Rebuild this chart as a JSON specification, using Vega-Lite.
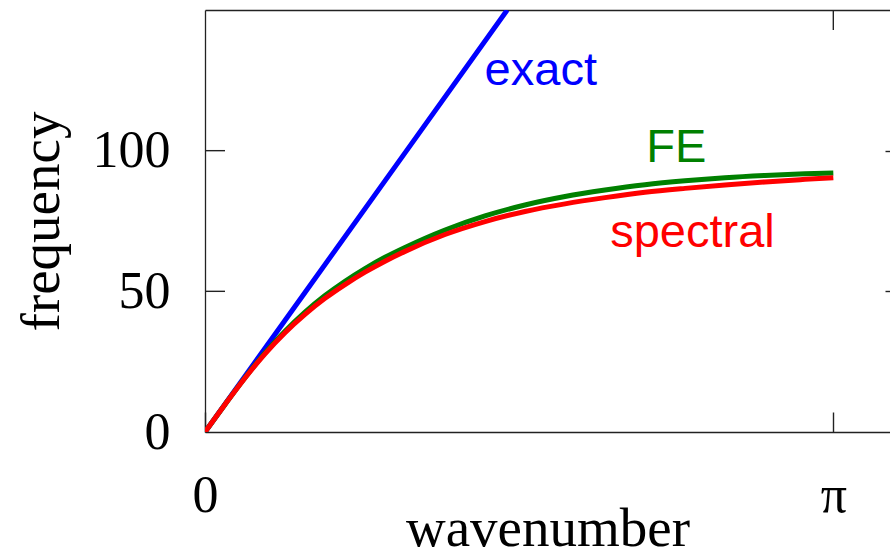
{
  "$schema": "https://vega.github.io/schema/vega-lite/v6.json",
  "width": 685,
  "height": 422,
  "autosize": {"type": "none"},
  "padding": {"left": 205, "top": 10, "right": 0, "bottom": 123},
  "config": {
    "view": {"stroke": null},
    "axis": {
      "grid": false,
      "domainColor": "#222222",
      "tickColor": "#222222",
      "domainWidth": 1.3,
      "tickWidth": 1.4,
      "labelFont": "Liberation Serif",
      "titleFont": "Liberation Serif",
      "labelColor": "#000000",
      "titleColor": "#000000",
      "titleFontWeight": "normal",
      "labelFlush": false,
      "labelOverlap": false
    }
  },
  "datasets": {
    "exact": [
      {"k": 0, "f": 0},
      {"k": 0.5, "f": 49.6},
      {"k": 1.0, "f": 99.2},
      {"k": 1.511, "f": 150}
    ],
    "fe": [
      {"k": 0, "f": 0},
      {"k": 0.1, "f": 9.8},
      {"k": 0.2, "f": 19.3},
      {"k": 0.3, "f": 28.1},
      {"k": 0.4, "f": 35.8},
      {"k": 0.5, "f": 42.6},
      {"k": 0.6, "f": 48.5},
      {"k": 0.7, "f": 53.6},
      {"k": 0.8, "f": 58.1},
      {"k": 0.9, "f": 62.1},
      {"k": 1.0, "f": 65.6},
      {"k": 1.2, "f": 71.8},
      {"k": 1.4, "f": 76.8},
      {"k": 1.6, "f": 80.7},
      {"k": 1.8, "f": 83.7},
      {"k": 2.0, "f": 86.0},
      {"k": 2.2, "f": 87.9},
      {"k": 2.4, "f": 89.3},
      {"k": 2.6, "f": 90.4},
      {"k": 2.8, "f": 91.2},
      {"k": 3.0, "f": 91.8},
      {"k": 3.1416, "f": 92.1}
    ],
    "spectral": [
      {"k": 0, "f": 0},
      {"k": 0.1, "f": 9.8},
      {"k": 0.2, "f": 19.2},
      {"k": 0.3, "f": 27.8},
      {"k": 0.4, "f": 35.3},
      {"k": 0.5, "f": 41.8},
      {"k": 0.6, "f": 47.5},
      {"k": 0.7, "f": 52.4},
      {"k": 0.8, "f": 56.8},
      {"k": 0.9, "f": 60.7},
      {"k": 1.0, "f": 64.2},
      {"k": 1.2, "f": 70.2},
      {"k": 1.4, "f": 74.8},
      {"k": 1.6, "f": 78.4},
      {"k": 1.8, "f": 81.1},
      {"k": 2.0, "f": 83.3},
      {"k": 2.2, "f": 85.2},
      {"k": 2.4, "f": 86.6},
      {"k": 2.6, "f": 87.8},
      {"k": 2.8, "f": 88.9},
      {"k": 3.0, "f": 89.8},
      {"k": 3.1416, "f": 90.4}
    ],
    "topticks": [
      {"k": 3.14159265, "f": 150}
    ],
    "leftticks": [
      {"k": 0, "f": 50},
      {"k": 0, "f": 100}
    ],
    "labels": [
      {"k": 1.398, "f": 123.4, "label": "exact", "series": "exact"},
      {"k": 2.206, "f": 96.1, "label": "FE", "series": "FE"},
      {"k": 2.026, "f": 65.7, "label": "spectral", "series": "spectral"}
    ]
  },
  "layer": [
    {
      "data": {"name": "exact"},
      "mark": {"type": "line", "color": "#0000ff", "strokeWidth": 5, "clip": true},
      "encoding": {
        "x": {
          "field": "k", "type": "quantitative",
          "scale": {"domain": [0, 3.425], "nice": false, "zero": false},
          "axis": {
            "orient": "bottom", "values": [0, 3.14159265],
            "labelExpr": "datum.value == 0 ? '0' : 'π'",
            "ticks": false, "labelFontSize": 52, "labelPadding": 38,
            "title": "wavenumber", "titleFontSize": 55,
            "titleBaseline": "alphabetic", "titlePadding": 24
          }
        },
        "y": {
          "field": "f", "type": "quantitative",
          "scale": {"domain": [0, 150], "nice": false},
          "axis": {
            "orient": "left", "values": [0, 50, 100],
            "ticks": false, "labelFontSize": 52, "labelPadding": 35,
            "title": "frequency", "titleFontSize": 55, "titlePadding": 22
          }
        }
      }
    },
    {
      "data": {"name": "fe"},
      "mark": {"type": "line", "color": "#008000", "strokeWidth": 5, "interpolate": "monotone", "clip": true},
      "encoding": {
        "x": {
          "field": "k", "type": "quantitative",
          "axis": {"orient": "top", "values": [0, 3.14159265], "labels": false, "title": null, "ticks": false, "domain": true}
        },
        "y": {
          "field": "f", "type": "quantitative",
          "axis": {"orient": "right", "values": [50, 100], "labels": false, "title": null, "ticks": true, "tickSize": -20, "domain": false, "offset": 15}
        }
      }
    },
    {
      "data": {"name": "spectral"},
      "mark": {"type": "line", "color": "#ff0000", "strokeWidth": 5, "interpolate": "monotone", "clip": true},
      "encoding": {
        "x": {
          "field": "k", "type": "quantitative",
          "axis": {"orient": "bottom", "values": [0, 3.14159265], "labels": false, "title": null, "ticks": true, "tickSize": -20, "domain": false}
        },
        "y": {"field": "f", "type": "quantitative", "axis": null}
      }
    },
    {
      "data": {"name": "topticks"},
      "mark": {"type": "tick", "orient": "vertical", "color": "#222222", "size": 20, "thickness": 1.4, "yOffset": 10, "opacity": 1},
      "encoding": {
        "x": {"field": "k", "type": "quantitative", "axis": null},
        "y": {"field": "f", "type": "quantitative", "axis": null}
      }
    },
    {
      "data": {"name": "leftticks"},
      "mark": {"type": "tick", "orient": "horizontal", "color": "#222222", "size": 20, "thickness": 1.4, "xOffset": 10, "opacity": 1},
      "encoding": {
        "x": {"field": "k", "type": "quantitative", "axis": null},
        "y": {"field": "f", "type": "quantitative", "axis": null}
      }
    },
    {
      "data": {"name": "labels"},
      "mark": {"type": "text", "align": "left", "baseline": "alphabetic", "font": "Liberation Sans", "fontSize": 47},
      "encoding": {
        "x": {"field": "k", "type": "quantitative", "axis": null},
        "y": {"field": "f", "type": "quantitative", "axis": null},
        "text": {"field": "label"},
        "color": {
          "field": "series", "type": "nominal",
          "scale": {"domain": ["exact", "FE", "spectral"], "range": ["#0000ff", "#008000", "#ff0000"]},
          "legend": null
        }
      }
    }
  ],
  "resolve": {"axis": {"x": "independent", "y": "independent"}}
}
